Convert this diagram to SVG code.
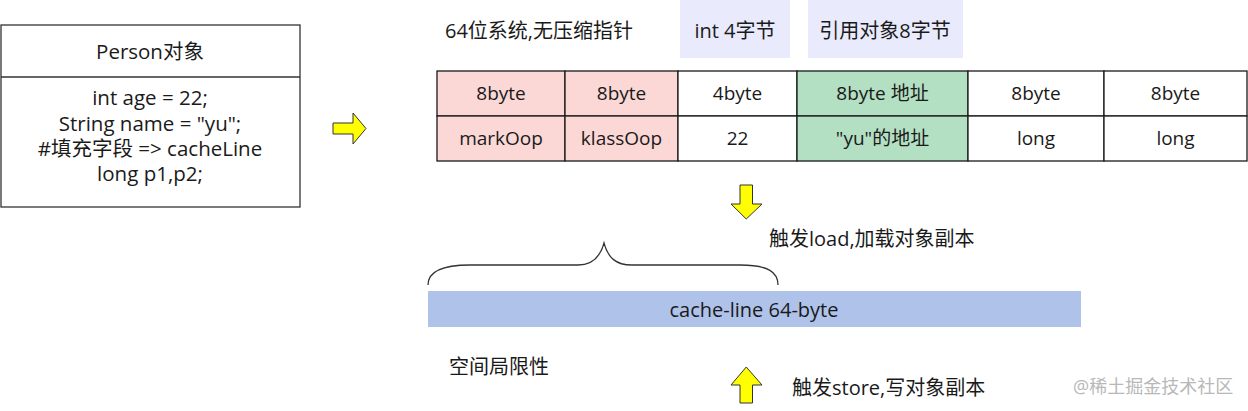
<svg xmlns="http://www.w3.org/2000/svg" width="1248" height="411" viewBox="0 0 1248 411">
<style>
text{font-family:"Open Sans","Noto Sans CJK SC",sans-serif;fill:#1a1a1a;dominant-baseline:central}
.c{text-anchor:middle}
.t{font-size:20px}
.tb{font-size:19px}
.b{font-size:20.5px}
.cell{stroke:#1a1a1a;stroke-width:1.3}
.pink{fill:#fbd8d6}
.green{fill:#b3dfc3}
.white{fill:#ffffff}
.arrow{fill:#ffff00;stroke:#333;stroke-width:1}
.leg{fill:#e9ebfc}
</style>
<rect width="1248" height="411" fill="#fff"/>
<g id="person">
<rect x="1" y="25" width="299" height="182" fill="#fff" stroke="#333" stroke-width="1.3"/>
<line x1="1" y1="77" x2="300" y2="77" stroke="#333" stroke-width="1.3"/>
<text class="c b" x="150" y="51">Person对象</text>
<text class="c b" x="150" y="97">int age = 22;</text>
<text class="c b" x="150" y="123">String name = "yu";</text>
<text class="c b" x="150" y="148">#填充字段 =&gt; cacheLine</text>
<text class="c b" x="150" y="173">long p1,p2;</text>
</g>
<g id="arrow-right"><path class="arrow" d="M333,123 L353,123 L353,113 L366,128.5 L353,144 L353,134 L333,134 Z"/></g>
<g id="title"><text class="t" x="445" y="30">64位系统,无压缩指针</text></g>
<g id="legend-int"><rect class="leg" x="680" y="0" width="110" height="58"/><text class="c t" x="735" y="30">int 4字节</text></g>
<g id="legend-ref"><rect class="leg" x="808" y="0" width="155" height="58"/><text class="c t" x="885" y="30">引用对象8字节</text></g>
<g id="table">
<rect class="cell pink" x="437" y="71" width="128" height="45"/>
<rect class="cell pink" x="565" y="71" width="113" height="45"/>
<rect class="cell white" x="678" y="71" width="119" height="45"/>
<rect class="cell green" x="797" y="71" width="171" height="45"/>
<rect class="cell white" x="968" y="71" width="136" height="45"/>
<rect class="cell white" x="1104" y="71" width="143" height="45"/>
<rect class="cell pink" x="437" y="116" width="128" height="45"/>
<rect class="cell pink" x="565" y="116" width="113" height="45"/>
<rect class="cell white" x="678" y="116" width="119" height="45"/>
<rect class="cell green" x="797" y="116" width="171" height="45"/>
<rect class="cell white" x="968" y="116" width="136" height="45"/>
<rect class="cell white" x="1104" y="116" width="143" height="45"/>
<text class="c tb" x="501" y="93">8byte</text>
<text class="c tb" x="621.5" y="93">8byte</text>
<text class="c tb" x="737.5" y="93">4byte</text>
<text class="c tb" x="882.5" y="93">8byte 地址</text>
<text class="c tb" x="1036" y="93">8byte</text>
<text class="c tb" x="1175.5" y="93">8byte</text>
<text class="c tb" x="501" y="138">markOop</text>
<text class="c tb" x="621.5" y="138">klassOop</text>
<text class="c tb" x="737.5" y="138">22</text>
<text class="c tb" x="882.5" y="138">"yu"的地址</text>
<text class="c tb" x="1036" y="138">long</text>
<text class="c tb" x="1175.5" y="138">long</text>
</g>
<g id="arrow-down"><path class="arrow" d="M740,185 L752.5,185 L752.5,204 L762,204 L746.25,219 L731,204 L740,204 Z"/></g>
<g id="load-label"><text class="t" x="769" y="238">触发load,加载对象副本</text></g>
<g id="brace"><path d="M428,285 C428,272 440,265 470,265 L578,265 C592,265 600,258 604,243 C608,258 616,265 632,265 L740,265 C768,265 778,272 778,285" fill="none" stroke="#333" stroke-width="1.3"/></g>
<g id="cache-line"><rect x="428" y="291" width="653" height="36" fill="#afc2ea"/><text class="c t" x="754" y="309">cache-line 64-byte</text></g>
<g id="locality"><text class="t" x="449" y="366">空间局限性</text></g>
<g id="arrow-up"><path class="arrow" d="M740,403 L752.5,403 L752.5,385 L762,385 L746.25,367 L731,385 L740,385 Z"/></g>
<g id="store-label"><text class="t" x="792" y="387">触发store,写对象副本</text></g>
<g id="watermark"><text x="1073" y="386" style="font-size:18px;fill:#b8b8b8">@稀土掘金技术社区</text></g>
</svg>
